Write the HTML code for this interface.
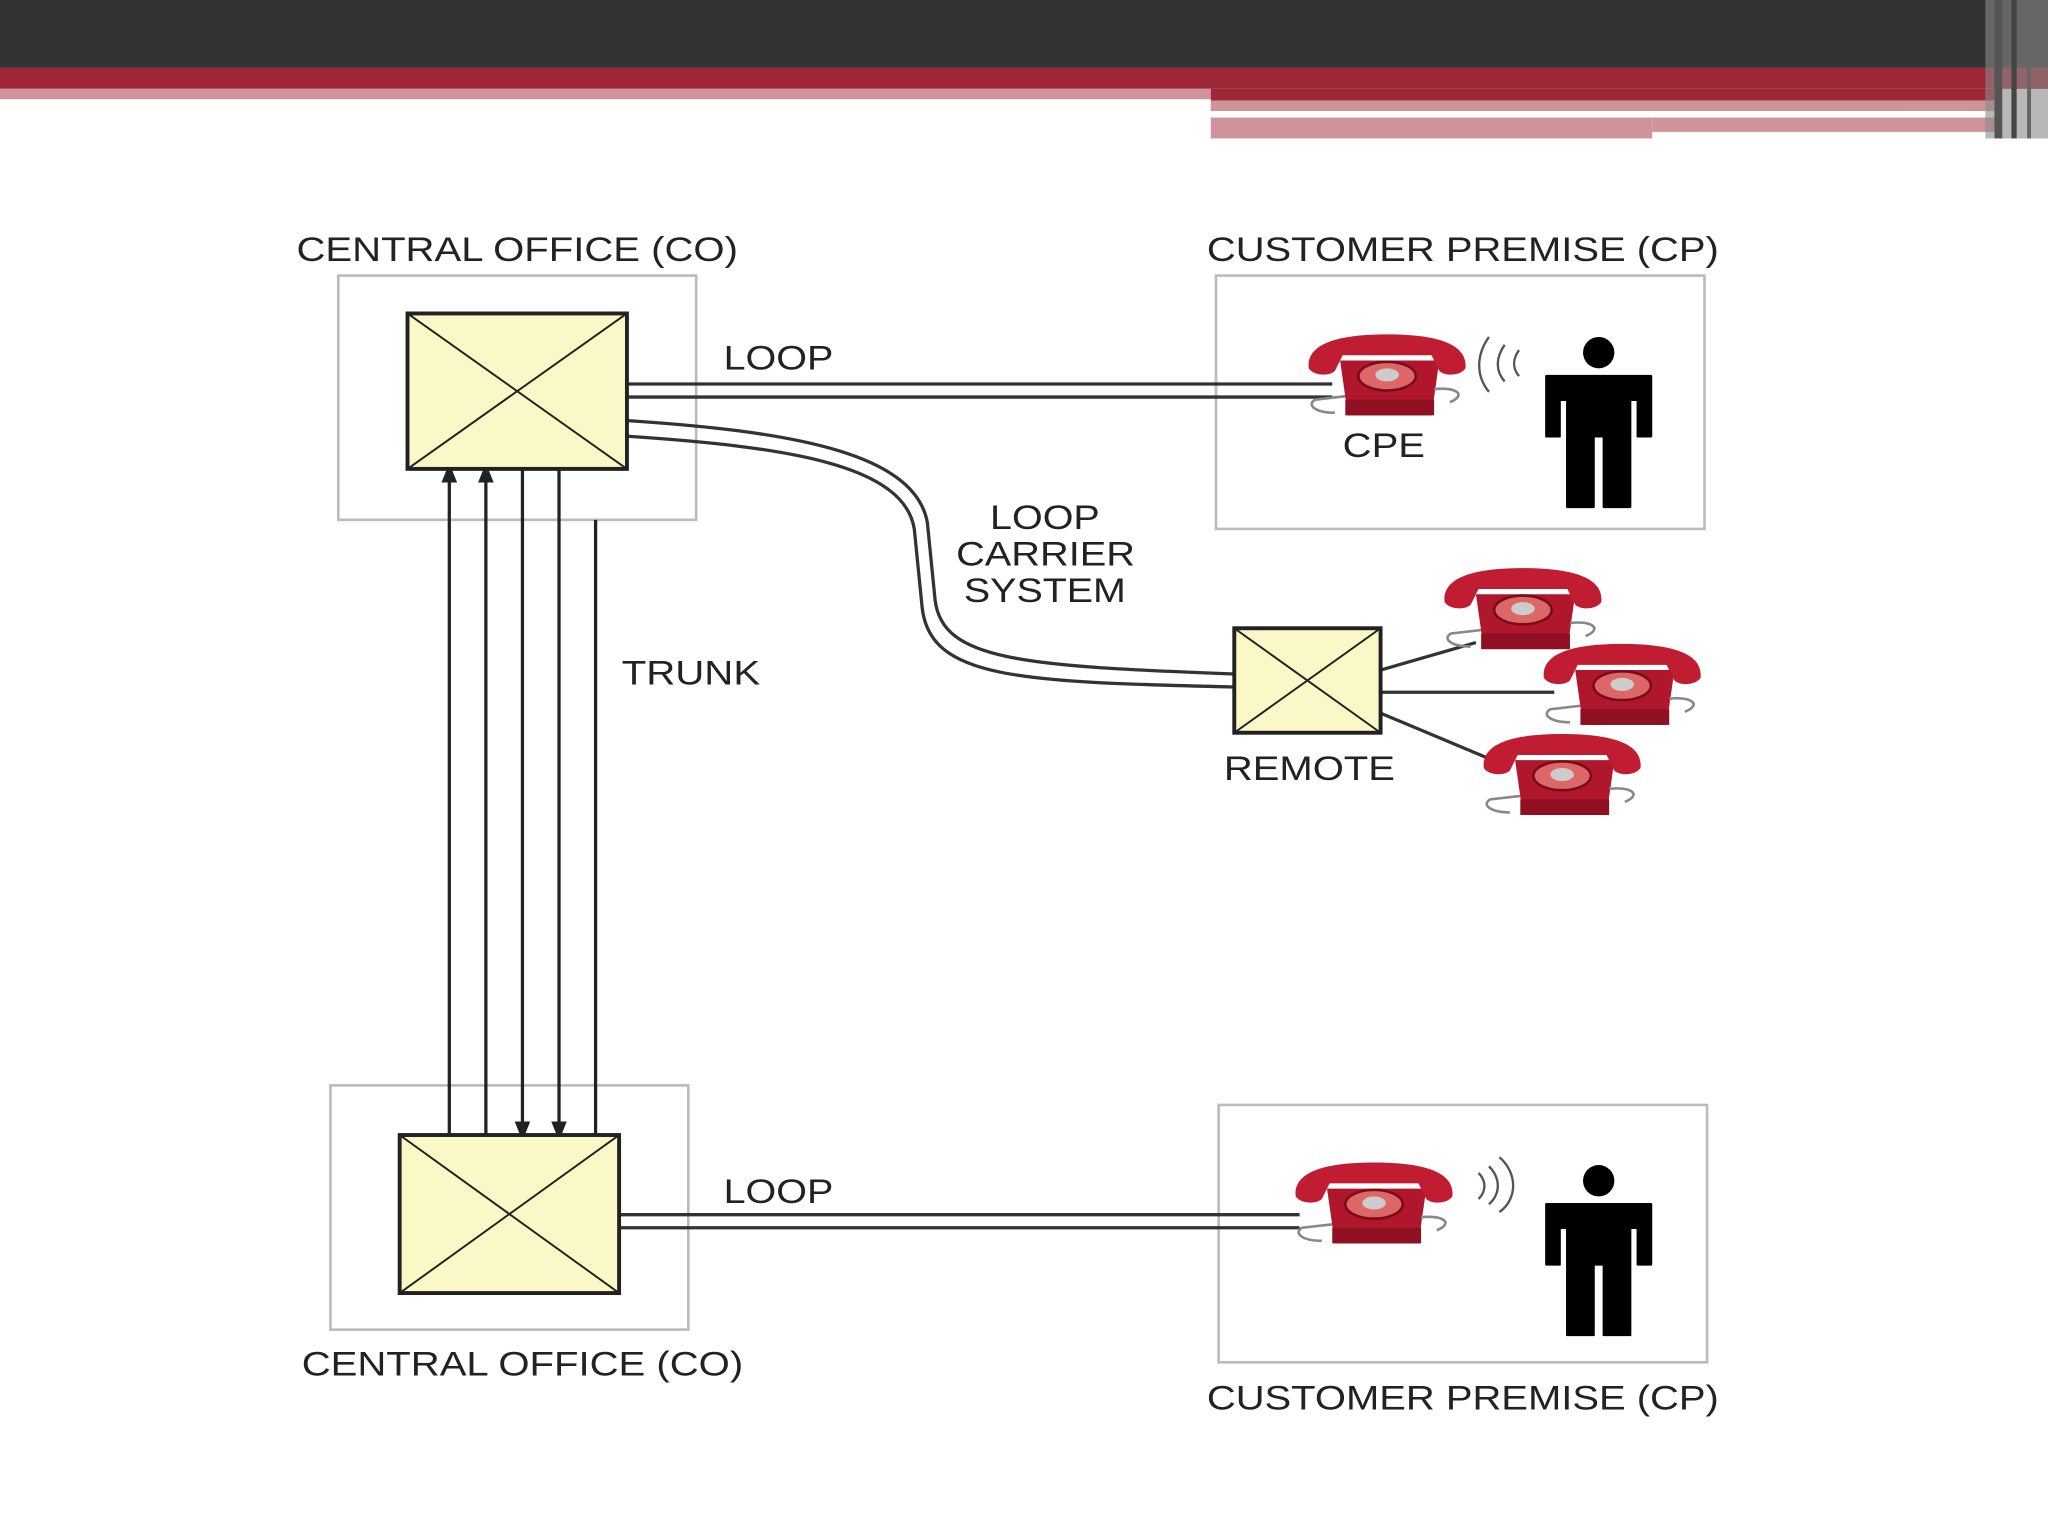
<!DOCTYPE html>
<html><head><meta charset="utf-8"><style>
html,body{margin:0;padding:0;background:#fff}
svg{display:block}
text{font-family:"Liberation Sans",sans-serif;font-size:26px;fill:#222}
</style></head><body>
<svg width="2048" height="1536" viewBox="0 0 1568 1176" xmlns="http://www.w3.org/2000/svg">
<defs>
<g id="ph">
<path d="M-40,28 C-55,28 -62,22 -55,18 L-20,14" fill="none" stroke="#888" stroke-width="2"/>
<path d="M-36,-12 L-30,30 L34,30 L40,-12 Z" fill="#b0172c"/>
<rect x="-32" y="18" width="68" height="12" fill="#8e1022"/>
<path d="M-60,-6 C-62,-24 -40,-32 0,-32 C40,-32 62,-24 60,-6 C56,0 44,0 40,-4 L34,-16 L-34,-16 L-40,-4 C-44,0 -56,0 -60,-6 Z" fill="#c01d33"/>
<ellipse cx="0" cy="0" rx="22" ry="11" fill="#d66" stroke="#7a0c1a" stroke-width="2"/>
<ellipse cx="0" cy="-1" rx="9" ry="5" fill="#ccc"/>
<path d="M36,10 C52,8 62,14 48,20" fill="none" stroke="#888" stroke-width="2"/>
</g>
<g id="man">
<circle cx="0" cy="-48" r="12" fill="#000"/>
<path d="M-40,-30 L40,-30 L40,16 L30,16 L30,-12 L24,-12 L24,70 L4,70 L4,16 L-4,16 L-4,70 L-24,70 L-24,-12 L-30,-12 L-30,16 L-40,16 Z" fill="#000" stroke="#000" stroke-width="2" stroke-linejoin="round"/>
</g>
<marker id="a" viewBox="0 0 10 10" refX="5" refY="5" markerWidth="6" markerHeight="6" orient="auto"><path d="M0,1 L10,5 L0,9 Z" fill="#222"/></marker>
</defs>
<rect x="0" y="0" width="1568" height="52" fill="#333"/>
<rect x="0" y="52" width="1568" height="16" fill="#9e2838"/>
<rect x="0" y="68" width="927" height="8" fill="#d1939b"/>
<rect x="927" y="68" width="600" height="9" fill="#9e2838"/>
<rect x="927" y="77" width="600" height="8" fill="#cf9499"/>
<rect x="927" y="85" width="525" height="5" fill="#fff"/>
<rect x="927" y="90" width="338" height="16" fill="#d1939b"/>
<rect x="1265" y="90" width="262" height="11" fill="#d1939b"/>
<rect x="1520" y="0" width="48" height="106" fill="#888" opacity="0.6"/>
<rect x="1527" y="0" width="6" height="106" fill="#555"/>
<rect x="1540" y="0" width="4" height="106" fill="#444"/>
<rect x="1552" y="0" width="3" height="106" fill="#666"/>

<g fill="none" stroke="#bbb" stroke-width="2">
<rect x="259" y="211" width="274" height="187"/>
<rect x="931" y="211" width="374" height="194"/>
<rect x="253" y="831" width="274" height="187"/>
<rect x="933" y="846" width="374" height="197"/>
</g>
<g stroke="#222" stroke-width="2.5">
<line x1="344" y1="869" x2="344" y2="362" marker-end="url(#a)"/>
<line x1="372" y1="869" x2="372" y2="362" marker-end="url(#a)"/>
<line x1="400" y1="359" x2="400" y2="866" marker-end="url(#a)"/>
<line x1="428" y1="359" x2="428" y2="866" marker-end="url(#a)"/>
<line x1="456" y1="398" x2="456" y2="869"/>
</g>
<g stroke="#333" stroke-width="2.5" fill="none">
<line x1="480" y1="294" x2="1020" y2="294"/>
<line x1="480" y1="304" x2="1020" y2="304"/>
<line x1="474" y1="930" x2="995" y2="930"/>
<line x1="474" y1="940" x2="995" y2="940"/>
<path d="M480,322 C600,330 700,345 710,400 L716,460 C722,505 780,510 945,516"/>
<path d="M480,334 C600,342 692,355 700,405 L706,465 C712,520 780,522 945,526"/>
<path d="M1057,513 L1130,492"/>
<path d="M1057,530 L1190,530"/>
<path d="M1057,546 L1138,580"/>
</g>
<g fill="#fbf8c8" stroke="#222" stroke-width="3">
<rect x="312" y="240" width="168" height="119"/>
<path d="M312,240 L480,359 M480,240 L312,359" fill="none" stroke-width="1.5"/>
<rect x="306" y="869" width="168" height="121"/>
<path d="M306,869 L474,990 M474,869 L306,990" fill="none" stroke-width="1.5"/>
<rect x="945" y="481" width="112" height="80"/>
<path d="M945,481 L1057,561 M1057,481 L945,561" fill="none" stroke-width="1.5"/>
</g>
<use href="#ph" x="1062" y="288"/>
<use href="#ph" x="1166" y="467"/>
<use href="#ph" x="1242" y="525"/>
<use href="#ph" x="1196" y="594"/>
<use href="#ph" x="1052" y="922"/>
<use href="#man" x="1224" y="318"/>
<use href="#man" x="1224" y="952"/>
<g fill="none" stroke="#555" stroke-width="1.8">
<path d="M1140,258 C1130,272 1130,288 1140,300"/>
<path d="M1152,264 C1145,274 1145,284 1152,292"/>
<path d="M1163,268 C1158,275 1158,282 1163,288"/>
<path d="M1132,898 C1138,904 1138,912 1132,918"/>
<path d="M1140,893 C1149,902 1149,914 1140,922"/>
<path d="M1148,886 C1162,898 1162,918 1148,928"/>
</g>
<text x="227" y="200" textLength="338" lengthAdjust="spacingAndGlyphs">CENTRAL OFFICE (CO)</text>
<text x="924" y="200" textLength="392" lengthAdjust="spacingAndGlyphs">CUSTOMER PREMISE (CP)</text>
<text x="554" y="283" textLength="84" lengthAdjust="spacingAndGlyphs">LOOP</text>
<text x="1028" y="350" textLength="63" lengthAdjust="spacingAndGlyphs">CPE</text>
<text x="758" y="405" textLength="84" lengthAdjust="spacingAndGlyphs">LOOP</text>
<text x="732" y="433" textLength="137" lengthAdjust="spacingAndGlyphs">CARRIER</text>
<text x="738" y="461" textLength="124" lengthAdjust="spacingAndGlyphs">SYSTEM</text>
<text x="476" y="524" textLength="106" lengthAdjust="spacingAndGlyphs">TRUNK</text>
<text x="937" y="597" textLength="131" lengthAdjust="spacingAndGlyphs">REMOTE</text>
<text x="554" y="921" textLength="84" lengthAdjust="spacingAndGlyphs">LOOP</text>
<text x="231" y="1053" textLength="338" lengthAdjust="spacingAndGlyphs">CENTRAL OFFICE (CO)</text>
<text x="924" y="1079" textLength="392" lengthAdjust="spacingAndGlyphs">CUSTOMER PREMISE (CP)</text>
</svg>
</body></html>
